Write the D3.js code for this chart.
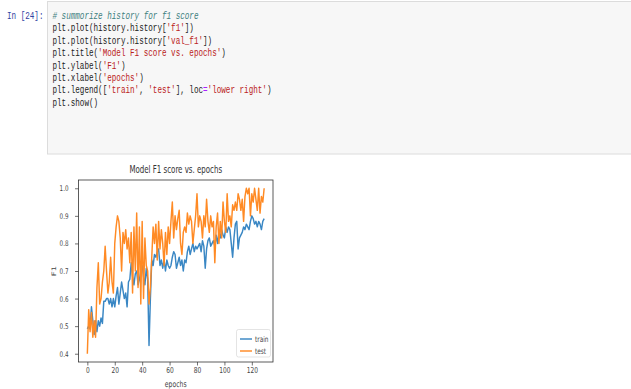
<!DOCTYPE html>
<html>
<head>
<meta charset="utf-8">
<script src="https://cdn.jsdelivr.net/npm/d3@7"></script>
<style>
  html, body { margin: 0; padding: 0; background: #fff; }
  svg text { white-space: pre; }
</style>
</head>
<body>
<svg id="page" width="631" height="389"></svg>
<script>
// notebook cell
const promptLabel = 'In [24]:';
const codeLines = [
  [['# summorize history for f1 score', 'comment']],
  [['plt.plot(history.history[', 'plain'], ["'f1'", 'str'], ['])', 'plain']],
  [['plt.plot(history.history[', 'plain'], ["'val_f1'", 'str'], ['])', 'plain']],
  [['plt.title(', 'plain'], ["'Model F1 score vs. epochs'", 'str'], [')', 'plain']],
  [['plt.ylabel(', 'plain'], ["'F1'", 'str'], [')', 'plain']],
  [['plt.xlabel(', 'plain'], ["'epochs'", 'str'], [')', 'plain']],
  [['plt.legend([', 'plain'], ["'train'", 'str'], [', ', 'plain'], ["'test'", 'str'], ['], loc', 'plain'], ['=', 'op'], ["'lower right'", 'str'], [')', 'plain']],
  [['plt.show()', 'plain']]
];

// chart
const chartTitle = 'Model F1 score vs. epochs';
const xLabel = 'epochs';
const yLabel = 'F1';
const seriesNames = ['train', 'test'];
const xTicks = [0, 20, 40, 60, 80, 100, 120];
const yTicks = [0.4, 0.5, 0.6, 0.7, 0.8, 0.9, 1.0];

const trainF1 = [
  0.49, 0.50, 0.49, 0.57, 0.52, 0.47, 0.52, 0.48, 0.52, 0.50,
  0.53, 0.51, 0.59, 0.59, 0.60, 0.60, 0.58, 0.60, 0.57, 0.60,
  0.57, 0.61, 0.64, 0.58, 0.62, 0.66, 0.63, 0.60, 0.62, 0.57,
  0.66, 0.67, 0.73, 0.68, 0.65, 0.69, 0.70, 0.65, 0.67, 0.70,
  0.72, 0.68, 0.65, 0.71, 0.67, 0.43, 0.60, 0.74, 0.72, 0.76,
  0.75, 0.77, 0.78, 0.72, 0.74, 0.71, 0.74, 0.70, 0.74, 0.72,
  0.71, 0.72, 0.75, 0.77, 0.76, 0.71, 0.73, 0.75, 0.72, 0.74,
  0.70, 0.74, 0.73, 0.77, 0.79, 0.76, 0.78, 0.80, 0.77, 0.79,
  0.78, 0.79, 0.80, 0.77, 0.81, 0.79, 0.71, 0.78, 0.81, 0.82,
  0.79, 0.80, 0.81, 0.79, 0.83, 0.80, 0.84, 0.82, 0.85, 0.83,
  0.82, 0.86, 0.84, 0.86, 0.85, 0.80, 0.75, 0.82, 0.87, 0.88,
  0.78, 0.82, 0.83, 0.84, 0.86, 0.85, 0.87, 0.86, 0.85, 0.88,
  0.90, 0.89, 0.87, 0.88, 0.86, 0.88, 0.87, 0.85, 0.88, 0.89
];

const testF1 = [
  0.40, 0.56, 0.48, 0.55, 0.46, 0.52, 0.46, 0.64, 0.73, 0.58,
  0.60, 0.66, 0.70, 0.79, 0.70, 0.62, 0.66, 0.75, 0.66, 0.62,
  0.80, 0.86, 0.90, 0.88, 0.82, 0.70, 0.84, 0.80, 0.85, 0.78,
  0.82, 0.73, 0.84, 0.62, 0.86, 0.70, 0.91, 0.64, 0.86, 0.58,
  0.88, 0.60, 0.82, 0.72, 0.70, 0.58, 0.64, 0.75, 0.86, 0.80,
  0.87, 0.74, 0.88, 0.78, 0.85, 0.80, 0.72, 0.84, 0.76, 0.86,
  0.80, 0.88, 0.95, 0.82, 0.90, 0.85, 0.89, 0.92, 0.80, 0.76,
  0.84, 0.86, 0.84, 0.91, 0.87, 0.90, 0.88, 0.80, 0.85, 0.90,
  0.98, 0.86, 0.90, 0.88, 0.82, 0.90, 0.86, 0.96, 0.88, 0.84,
  0.90, 0.86, 0.88, 0.73, 0.86, 0.91, 0.80, 0.88, 0.82, 0.95,
  0.88, 0.84, 0.98, 0.88, 0.90, 0.86, 0.94, 0.92, 0.95, 0.92,
  0.98, 0.96, 0.92, 0.96, 0.88, 0.97, 1.00, 0.98, 1.00, 0.90,
  0.98, 0.95, 1.00, 0.96, 0.92, 1.00, 0.91, 0.97, 0.95, 1.00
];

const colors = { train: '#3a87c4', test: '#ff8a24' };
const tokenColors = { comment: '#408080', plain: '#222', str: '#ba2121', op: '#aa22ff' };

const svg = d3.select('#page');

// ---- code cell ----
svg.append('rect')
  .attr('x', 47.5).attr('y', 1.5)
  .attr('width', 600).attr('height', 152.5)
  .attr('fill', '#f7f7f7')
  .attr('stroke', '#dcdcdc');

const squeeze = 0.725;
const mono = svg.append('g')
  .attr('transform', `scale(${squeeze},1)`)
  .style('font-family', '"Liberation Mono", "DejaVu Sans Mono", monospace')
  .style('font-size', '10.5px');

mono.append('text')
  .attr('x', 7 / squeeze).attr('y', 19)
  .attr('fill', '#303f9f')
  .text(promptLabel);

codeLines.forEach((tokens, i) => {
  const t = mono.append('text')
    .attr('x', 52.5 / squeeze)
    .attr('y', 19 + i * 12.4);
  tokens.forEach(([s, kind]) => {
    t.append('tspan')
      .attr('fill', tokenColors[kind])
      .style('font-style', kind === 'comment' ? 'italic' : null)
      .text(s);
  });
});

// ---- chart ----
const x = d3.scaleLinear().domain([-6.45, 135.45]).range([78.5, 273]);
const y = d3.scaleLinear().domain([0.37, 1.03]).range([362, 180]);

const sx = 0.72;
const chartFont = '"DejaVu Sans", sans-serif';

const chart = svg.append('g').style('font-family', chartFont);

const line = d3.line()
  .x((d, i) => x(i))
  .y(d => y(d));

chart.append('path')
  .datum(trainF1)
  .attr('fill', 'none')
  .attr('stroke', colors.train)
  .attr('stroke-width', 1.45)
  .attr('stroke-linejoin', 'round')
  .attr('d', line);

chart.append('path')
  .datum(testF1)
  .attr('fill', 'none')
  .attr('stroke', colors.test)
  .attr('stroke-width', 1.45)
  .attr('stroke-linejoin', 'round')
  .attr('d', line);

// axes
const xAxis = chart.append('g')
  .attr('transform', `translate(0,${y.range()[0]})`)
  .call(d3.axisBottom(x).tickValues(xTicks).tickSize(3.5).tickFormat(d3.format('d')));
xAxis.select('.domain').remove();
xAxis.selectAll('line').attr('stroke', '#333').attr('stroke-width', 0.7);
xAxis.selectAll('text')
  .attr('y', 5.5)
  .attr('x', 0)
  .attr('fill', '#444')
  .style('font-family', chartFont)
  .style('font-size', '8.2px')
  .attr('transform', `scale(${sx},1)`);

const yAxis = chart.append('g')
  .attr('transform', `translate(${x.range()[0]},0)`)
  .call(d3.axisLeft(y).tickValues(yTicks).tickSize(3.5).tickFormat(d3.format('.1f')));
yAxis.select('.domain').remove();
yAxis.selectAll('line').attr('stroke', '#333').attr('stroke-width', 0.7);
yAxis.selectAll('text')
  .attr('x', -10 / sx)
  .attr('fill', '#444')
  .style('font-family', chartFont)
  .style('font-size', '7.8px')
  .attr('transform', `scale(${sx},1)`);

// frame
chart.append('rect')
  .attr('x', x.range()[0]).attr('y', y.range()[1])
  .attr('width', x.range()[1] - x.range()[0])
  .attr('height', y.range()[0] - y.range()[1])
  .attr('fill', 'none')
  .attr('stroke', '#333')
  .attr('stroke-width', 0.8);

// title & labels
const midX = (x.range()[0] + x.range()[1]) / 2;
chart.append('text')
  .attr('transform', `translate(${midX},173) scale(${sx},1)`)
  .attr('text-anchor', 'middle')
  .attr('fill', '#333')
  .style('font-size', '9.8px')
  .text(chartTitle);

chart.append('text')
  .attr('transform', `translate(${midX},387) scale(${sx},1)`)
  .attr('text-anchor', 'middle')
  .attr('fill', '#444')
  .style('font-size', '8.5px')
  .text(xLabel);

chart.append('text')
  .attr('transform', `translate(56,${(y.range()[0] + y.range()[1]) / 2}) rotate(-90) scale(1,${sx})`)
  .attr('text-anchor', 'middle')
  .attr('fill', '#444')
  .style('font-size', '8.5px')
  .text(yLabel);

// legend
const legend = chart.append('g').attr('transform', 'translate(236.5,329.5)');
legend.append('rect')
  .attr('width', 34).attr('height', 27.5)
  .attr('rx', 2)
  .attr('fill', '#fff')
  .attr('fill-opacity', 0.85)
  .attr('stroke', '#d8d8d8')
  .attr('stroke-width', 0.7);

seriesNames.forEach((name, i) => {
  const ly = 9.5 + i * 12;
  legend.append('line')
    .attr('x1', 3.5).attr('x2', 15.5)
    .attr('y1', ly).attr('y2', ly)
    .attr('stroke', colors[name])
    .attr('stroke-width', 1.45);
  legend.append('text')
    .attr('transform', `translate(18.5,${ly + 2.8}) scale(${sx},1)`)
    .attr('fill', '#444')
    .style('font-size', '8px')
    .text(name);
});
</script>
</body>
</html>
